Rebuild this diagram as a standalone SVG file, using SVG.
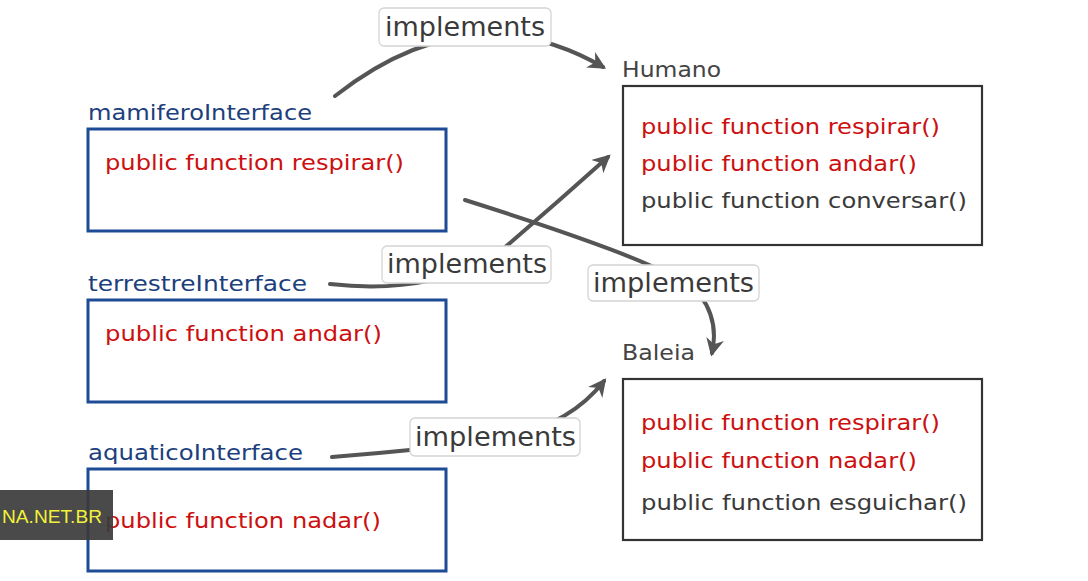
<svg xmlns="http://www.w3.org/2000/svg" width="1088" height="581" viewBox="0 0 1088 581">
<defs>
<marker id="arr" viewBox="0 0 10 10" refX="8" refY="5" markerWidth="4.5" markerHeight="4.5" orient="auto" markerUnits="strokeWidth">
<path d="M0,0 L10,5 L0,10 L3,5 z" fill="#555"/>
</marker>
<style>
text{font-family:"DejaVu Sans","Open Sans",sans-serif}
.iname{font-size:21px;fill:#1c3f7d}
.cname{font-size:21px;fill:#444}
.ibox{fill:#fff;stroke:#1d4b96;stroke-width:3}
.cbox{fill:#fff;stroke:#333;stroke-width:2.2}
.red{font-size:22px;fill:#cc1010}
.gray{font-size:22px;fill:#3a3a3a}
.conn{fill:none;stroke:#555;stroke-width:4;stroke-linecap:round}
.lbox{fill:#fff;stroke:#d4d4d4;stroke-width:1.3}
.ltxt{font-size:26px;fill:#3a3a3a}
</style>
</defs>
<rect width="1088" height="581" fill="#fff"/>
<g id="connectors">
<path class="conn" d="M335,96 Q470,-10 603,67" marker-end="url(#arr)"/>
<path class="conn" d="M330,284 C400,292 470,280 510,243 Q560,200 608,157" marker-end="url(#arr)"/>
<path class="conn" d="M465,200 C560,230 680,270 700,295 C715,315 716,335 712,353" marker-end="url(#arr)"/>
<path class="conn" d="M332,457 Q420,450 500,440 Q570,425 604,381" marker-end="url(#arr)"/>
<g id="label1"><rect class="lbox" x="379" y="8" width="172" height="38" rx="5"/><text class="ltxt" x="385" y="36" textLength="160" lengthAdjust="spacingAndGlyphs">implements</text></g>
<g id="label2"><rect class="lbox" x="382" y="246" width="169" height="37" rx="5"/><text class="ltxt" x="387" y="273" textLength="160" lengthAdjust="spacingAndGlyphs">implements</text></g>
<g id="label3"><rect class="lbox" x="588" y="265" width="171" height="36" rx="5"/><text class="ltxt" x="593" y="292" textLength="161" lengthAdjust="spacingAndGlyphs">implements</text></g>
<g id="label4"><rect class="lbox" x="410" y="418" width="170" height="38" rx="5"/><text class="ltxt" x="415" y="446" textLength="161" lengthAdjust="spacingAndGlyphs">implements</text></g>
</g>
<g id="mamiferoInterface">
<text class="iname" x="88" y="120" textLength="224" lengthAdjust="spacingAndGlyphs">mamiferoInterface</text>
<rect class="ibox" x="88" y="129" width="358" height="102"/>
<text class="red" x="105" y="170" textLength="299" lengthAdjust="spacingAndGlyphs">public function respirar()</text>
</g>
<g id="terrestreInterface">
<text class="iname" x="88" y="291" textLength="219" lengthAdjust="spacingAndGlyphs">terrestreInterface</text>
<rect class="ibox" x="88" y="300" width="358" height="102"/>
<text class="red" x="105" y="341" textLength="277" lengthAdjust="spacingAndGlyphs">public function andar()</text>
</g>
<g id="aquaticoInterface">
<text class="iname" x="88" y="460" textLength="215" lengthAdjust="spacingAndGlyphs">aquaticoInterface</text>
<rect class="ibox" x="88" y="469" width="358" height="102"/>
<text class="red" x="105" y="528" textLength="276" lengthAdjust="spacingAndGlyphs">public function nadar()</text>
</g>
<g id="Humano">
<text class="cname" x="622" y="77" textLength="99" lengthAdjust="spacingAndGlyphs">Humano</text>
<rect class="cbox" x="623" y="86" width="359" height="159"/>
<text class="red" x="641" y="134" textLength="299" lengthAdjust="spacingAndGlyphs">public function respirar()</text>
<text class="red" x="641" y="171" textLength="276" lengthAdjust="spacingAndGlyphs">public function andar()</text>
<text class="gray" x="641" y="208" textLength="326" lengthAdjust="spacingAndGlyphs">public function conversar()</text>
</g>
<g id="Baleia">
<text class="cname" x="622" y="360" textLength="73" lengthAdjust="spacingAndGlyphs">Baleia</text>
<rect class="cbox" x="623" y="379" width="359" height="161"/>
<text class="red" x="641" y="430" textLength="299" lengthAdjust="spacingAndGlyphs">public function respirar()</text>
<text class="red" x="641" y="468" textLength="276" lengthAdjust="spacingAndGlyphs">public function nadar()</text>
<text class="gray" x="641" y="510" textLength="326" lengthAdjust="spacingAndGlyphs">public function esguichar()</text>
</g>
<g id="watermark">
<rect x="0" y="490" width="113" height="50" fill="#3b3b3b" opacity="0.92"/>
<text x="2" y="523" font-size="18" fill="#f2f23a" textLength="100" lengthAdjust="spacingAndGlyphs" style="font-family:'Liberation Sans',sans-serif">NA.NET.BR</text>
</g>
</svg>
